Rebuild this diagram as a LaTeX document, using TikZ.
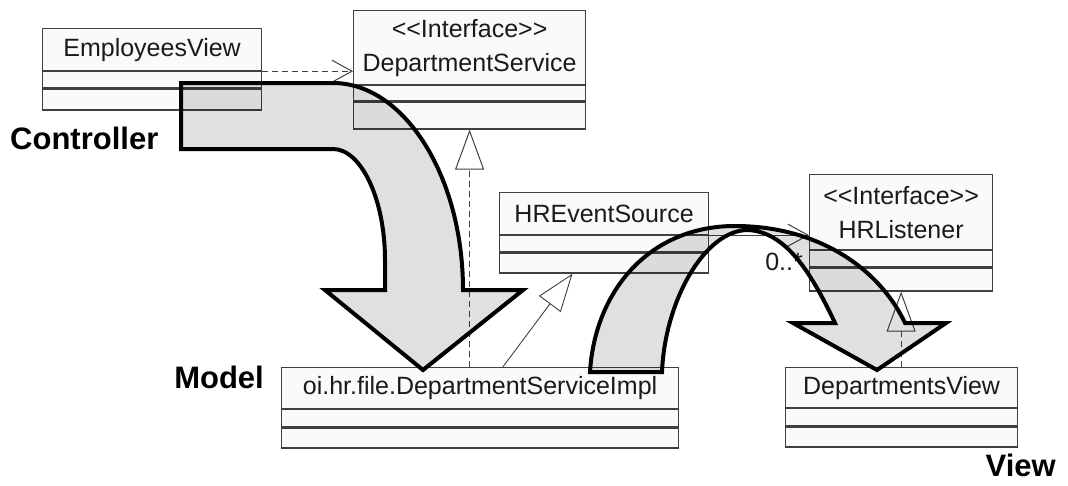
\documentclass[tikz,border=0pt]{standalone}
\usepackage{fontspec}
\setmainfont{Liberation Sans}
\usetikzlibrary{arrows.meta,positioning,calc}
\definecolor{boxline}{HTML}{404040}
\definecolor{boxfill}{HTML}{FAFAFA}
\definecolor{boxtext}{HTML}{1A1A1A}
\tikzset{
	% UML class boxes: a name compartment and two empty ones below it
	class name/.style={draw=boxline,fill=boxfill,line width=1.2pt,inner sep=0pt,minimum height=42pt,
		text=boxtext,font=\fontsize{25}{34}\selectfont,align=center,anchor=north west},
	class part/.style={draw=boxline,fill=boxfill,line width=1.2pt,inner sep=0pt},
	% bold layer labels
	layer label/.style={font=\fontsize{31}{31}\selectfont\bfseries,inner sep=0pt},
	% UML connectors
	dependency/.style={draw=boxline,line width=1pt,dash pattern=on 6pt off 4pt,-{Straight Barb[length=20pt,width=22pt]}},
	association/.style={draw=boxline,line width=1pt,-{Straight Barb[length=20pt,width=22pt]}},
	realization/.style={draw=boxline,line width=1pt,dash pattern=on 6pt off 4pt,-{Triangle[open,length=40pt,width=29pt,fill=white]}},
	generalization/.style={draw=boxline,line width=0.9pt,-{Triangle[open,length=38pt,width=27pt,fill=white]}},
	% the big hand drawn arrows
	big arrow/.style={draw=black,line width=4pt,fill=black,fill opacity=0.12,line join=miter}
}

\begin{document}
\begin{tikzpicture}[x=1pt,y=-1pt]
\useasboundingbox (0,0) rectangle (1068,485);

% classes
\node[class name,minimum width=219pt] (ev) at (42,28) {EmployeesView};
\node[class part,minimum width=219pt,minimum height=16pt,below=0pt of ev] (ev attr) {};
\node[class part,minimum width=219pt,minimum height=21pt,below=0pt of ev attr] (ev ops) {};

\node[class name,minimum width=232pt,minimum height=74pt] (ds) at (353,10) {{<}{<}Interface{>}{>}\\DepartmentService};
\node[class part,minimum width=232pt,minimum height=15pt,below=0pt of ds] (ds attr) {};
\node[class part,minimum width=232pt,minimum height=27pt,below=0pt of ds attr] (ds ops) {};

\node[class name,minimum width=209pt] (hres) at (499,192) {HREventSource};
\node[class part,minimum width=209pt,minimum height=16pt,below=0pt of hres] (hres attr) {};
\node[class part,minimum width=209pt,minimum height=20pt,below=0pt of hres attr] (hres ops) {};

\node[class name,minimum width=183pt,minimum height=75pt] (hrl) at (809,174) {{<}{<}Interface{>}{>}\\HRListener};
\node[class part,minimum width=183pt,minimum height=16pt,below=0pt of hrl] (hrl attr) {};
\node[class part,minimum width=183pt,minimum height=23pt,below=0pt of hrl attr] (hrl ops) {};

\node[class name,minimum width=397pt,minimum height=41pt] (impl) at (281,367) {oi.hr.file.DepartmentServiceImpl};
\node[class part,minimum width=397pt,minimum height=17pt,below=0pt of impl] (impl attr) {};
\node[class part,minimum width=397pt,minimum height=20pt,below=0pt of impl attr] (impl ops) {};

\node[class name,minimum width=232pt,minimum height=40pt] (dv) at (785,367) {DepartmentsView};
\node[class part,minimum width=232pt,minimum height=17pt,below=0pt of dv] (dv attr) {};
\node[class part,minimum width=232pt,minimum height=20pt,below=0pt of dv attr] (dv ops) {};

% connectors
\draw[dependency] (ev.south east) -- (ev.south east -| ds.west);
\draw[realization] (ds ops.south |- impl.north) -- (ds ops.south);
\draw[generalization] ($(impl.north west)!0.557!(impl.north east)$) -- ($(hres ops.south west)!0.35!(hres ops.south east)$);
\draw[association] (hres.south east) -- (hres.south east -| hrl.west);
\node[text=boxtext,font=\fontsize{25}{25}\selectfont,inner sep=0pt,anchor=east] (mult) at (803,262) {0..*};
\draw[realization] (hrl ops.south |- dv.north) -- (hrl ops.south);

% layer labels
\node[layer label,anchor=west] (controller) at (10,138) {Controller};
\node[layer label,anchor=east] (model) at (264,377) {Model};
\node[layer label,anchor=east] (view) at (1056,465) {View};

% controller -> model
\path[big arrow] (181,83) -- (333,83) .. controls (404,83) and (463,176) .. (463,290)
	-- (523,290) -- (423,370) -- (325,290) -- (385,290) -- (385,260)
	.. controls (385,199) and (361,149) .. (333,149) -- (181,149) -- cycle;

% model -> view
\path[big arrow] (590,372) .. controls (595,290) and (650,226) .. (735,226)
	.. controls (820,226) and (880,270) .. (905,323)
	-- (946,323) -- (877,370) -- (793,323) -- (835,323)
	.. controls (810,270) and (785,232) .. (748,230)
	.. controls (705,230) and (665,300) .. (662,372) -- cycle;

\end{tikzpicture}
\end{document}
